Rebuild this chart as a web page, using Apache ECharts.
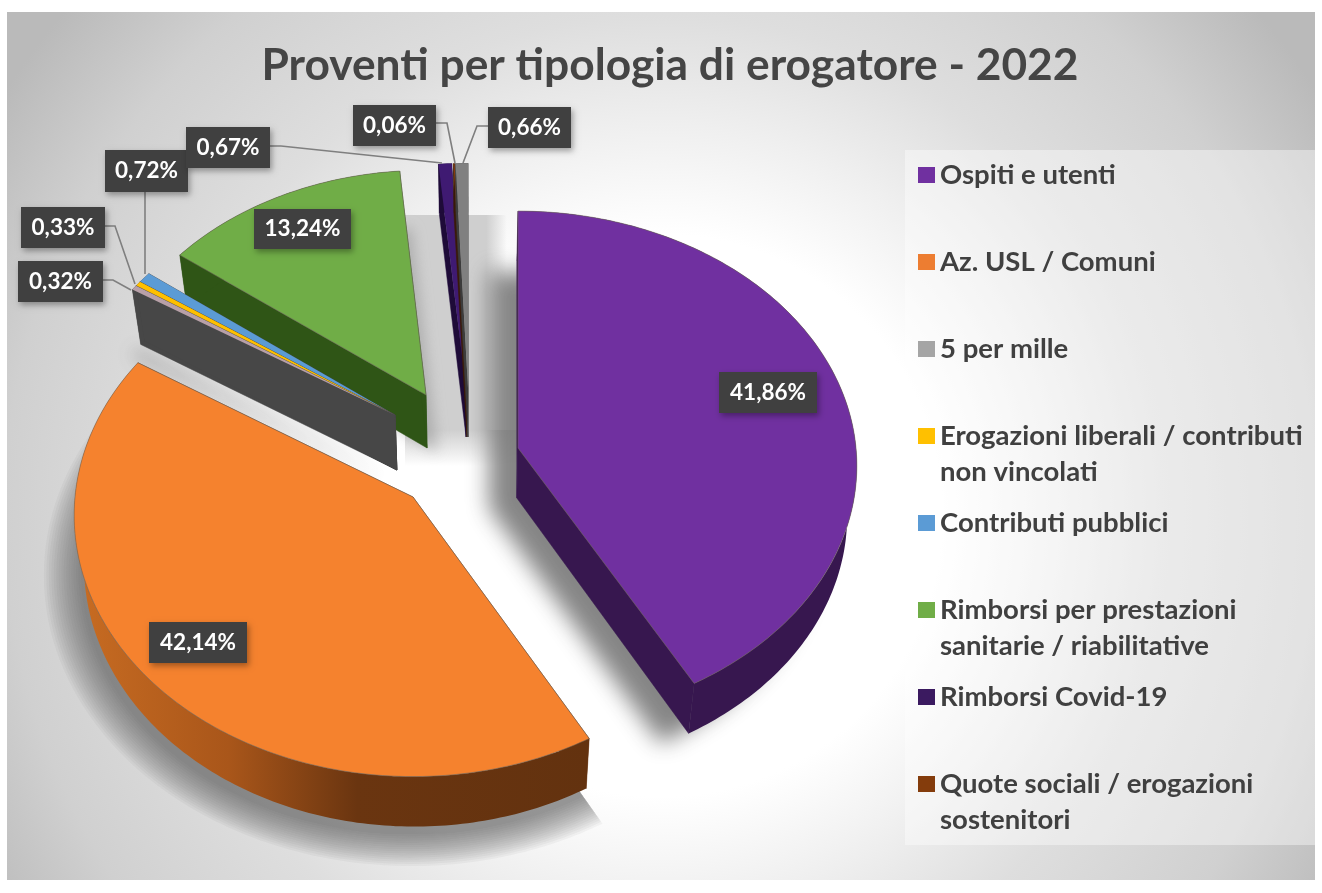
<!DOCTYPE html>
<html><head><meta charset="utf-8">
<style>html,body{margin:0;padding:0;background:#fff}#c{width:1322px;height:893px}</style>
<script src="https://cdn.jsdelivr.net/npm/echarts@6/dist/echarts.min.js"></script>
</head><body><div id="c"></div>
<script>
const titleText = 'Proventi per tipologia di erogatore - 2022';
const sliceNames = ['Ospiti e utenti','Az. USL / Comuni','5 per mille','Erogazioni liberali / contributi non vincolati','Contributi pubblici','Rimborsi per prestazioni sanitarie / riabilitative','Rimborsi Covid-19','Quote sociali / erogazioni sostenitori','Altri proventi'];
const sliceValues = [41.86,42.14,0.32,0.33,0.72,13.24,0.67,0.06,0.66];
const legendNames = sliceNames.slice(0,8);
const legendLines = {
  'Erogazioni liberali / contributi non vincolati':['Erogazioni liberali / contributi','non vincolati'],
  'Rimborsi per prestazioni sanitarie / riabilitative':['Rimborsi per prestazioni','sanitarie / riabilitative'],
  'Quote sociali / erogazioni sostenitori':['Quote sociali / erogazioni','sostenitori']
};
const topColors  = ['#7030A0','#F5822E','#B8A0A8','#FFC000','#5B9BD5','#70AD47','#3F1A72','#843C0C','#808080'];
const legendColors = ['#7030A0','#ED7D31','#A5A5A5','#FFC000','#5B9BD5','#70AD47','#3B1A60','#843C0C'];
const sideColors = ['#37174F',null,'#474747','#474747','#474747','#2F5516','#1E0B38','#3a1a08','#3c3c3c'];

// Exploded-pie layout: where each slice's apex sits and how perspective scales it
const R = 338, r = 260, persp = 0.07, vanishX = 470, shrink = 0.975;
const explode = [
 {cx:518,cy:448,sx:1,sy:0.975,d:50},{cx:413,cy:497,sx:1,sy:1,d:50},
 {cx:395,cy:415,sx:0.955,sy:0.935,d:55},{cx:395,cy:415,sx:0.955,sy:0.935,d:55},{cx:395,cy:415,sx:0.955,sy:0.935,d:55},
 {cx:426,cy:395,sx:0.955,sy:0.925,d:53},{cx:466,cy:388,sx:1.0,sy:0.925,d:49},{cx:467,cy:388,sx:0.95,sy:0.925,d:49},{cx:468,cy:388,sx:0.95,sy:0.925,d:49}];
const drawZ = [9,8,6.4,6.2,6,5,3,3.2,3.4];
// shadow: [sliceIndex, offsetX, offsetY, colour, blur]
const shadows = [[0,-28,10,'rgba(120,120,120,0.9)',22],[2,-8,10,'rgba(70,70,70,0.7)',18],[5,10,4,'rgba(150,150,150,0.6)',14]];
// soft orange shadow: stacked translucent copies fanned out from the apex
const fanShadow = {slice:1,dx:-3,dy:8,layers:16,step:0.0075,color:'rgba(85,85,85,0.05)'};
const labelBoxes = [
 {x:719,y:372,w:98,h:41},{x:149,y:622,w:98,h:41},
 {x:18,y:261,w:85,h:41,line:[[103,280],[113,280],[131,290]]},
 {x:21,y:207,w:84,h:41,line:[[105,226],[115,226],[135,284]]},
 {x:105,y:150,w:83,h:42,line:[[145,192],[145,274]]},
 {x:254,y:209,w:97,h:40},
 {x:186,y:127,w:84,h:41,line:[[270,146],[281,146],[442,163]]},
 {x:353,y:105,w:83,h:41,line:[[436,123],[447,123],[455,163]]},
 {x:488,y:107,w:83,h:41,line:[[488,126],[477,126],[463,163]]}];
const offscreen = 2000;

const fmt = v => v.toFixed(2).replace('.',',') + '%';
const starts = []; sliceValues.reduce((a,v,i)=>{starts[i]=a;return a+v;},0);
const total = sliceValues.reduce((a,b)=>a+b,0);
function pt(p, L){
  const t = p/total*2*Math.PI, X = Math.sin(t), Y = -Math.cos(t), w = 1 - persp*Y;
  return [L.cx + R*L.sx*X/w, L.cy + r*L.sy*Y/w];
}
const low = (q,L) => [vanishX + (q[0]-vanishX)*shrink, q[1]+L.d];
function rim(a,b,L){
  const n = Math.max(2, Math.ceil((b-a)*4)), out=[];
  for(let i=0;i<=n;i++) out.push(pt(a+(b-a)*i/n,L));
  return out;
}
const orangeWall = new echarts.graphic.LinearGradient(0,0,1,0,[
  {offset:0,color:'#C86C22'},{offset:0.3,color:'#A9561A'},{offset:0.55,color:'#6A3510'},{offset:1,color:'#63320F'}]);

function sliceItem(i){
  return function(params, api){
    const a = api.value(0), v = api.value(1), L = explode[i];
    const top = rim(a,a+v,L), apex=[L.cx,L.cy];
    const wall = i===1 ? orangeWall : sideColors[i];
    const kids = [];
    const quad = (p,q,fill)=>kids.push({type:'polygon',shape:{points:[p,q,low(q,L),low(p,L)]},style:{fill:fill,stroke:fill,lineWidth:0.5}});
    const rimWall = top.concat(top.slice().reverse().map(q=>low(q,L)));
    quad(apex,top[0],i===1?'#6A3510':sideColors[i]);
    quad(apex,top[top.length-1],i===1?'#6A3510':sideColors[i]);
    kids.push({type:'polygon',shape:{points:rimWall},style:{fill:wall}});
    kids.push({type:'polygon',shape:{points:[apex].concat(top)},style:{fill:topColors[i],stroke:'rgba(110,100,90,0.55)',lineWidth:v<1?0:1}});
    return {type:'group',children:kids};
  };
}
function shadowItem(params, api){
  const s = shadows[api.value(0)], i = s[0];
  const L = explode[i], a=starts[i], v=sliceValues[i], top=rim(a,a+v,L), apex=[L.cx,L.cy];
  const pts=[low(apex,L)].concat(top.map(q=>low(q,L))).map(q=>[q[0]+s[1]-offscreen,q[1]+s[2]]);
  return {type:'polygon',shape:{points:pts},style:{fill:'#000',shadowBlur:s[4],shadowColor:s[3],shadowOffsetX:offscreen,shadowOffsetY:0}};
}
function fanItem(params, api){
  const f = fanShadow, k = api.value(0), L = explode[f.slice], a=starts[f.slice], v=sliceValues[f.slice];
  const c = low([L.cx,L.cy],L), sc = 1 + k*f.step;
  const pts=[c].concat(rim(a,a+v,L).map(q=>{const b=low(q,L);return [c[0]+(b[0]-c[0])*sc,c[1]+(b[1]-c[1])*sc];})).map(q=>[q[0]+f.dx,q[1]+f.dy]);
  return {type:'polygon',shape:{points:pts},style:{fill:f.color}};
}
function labelItem(params, api){
  const i = api.value(1), b = labelBoxes[i], kids=[];
  if(b.line) kids.push({type:'polyline',shape:{points:b.line},style:{fill:'none',stroke:'#7f7f7f',lineWidth:1.6}});
  kids.push({type:'rect',shape:{x:b.x,y:b.y,width:b.w,height:b.h},style:{fill:'#404040',shadowBlur:6,shadowColor:'rgba(0,0,0,0.35)',shadowOffsetX:2,shadowOffsetY:3}});
  kids.push({type:'text',style:{text:fmt(api.value(0)),x:b.x+b.w/2,y:b.y+b.h/2,align:'center',verticalAlign:'middle',fill:'#fff',font:'bold 22.5px Lato'}});
  return {type:'group',children:kids};
}

const series = [
  {type:'custom',name:'Ombra',coordinateSystem:'none',z:1,silent:true,renderItem:fanItem,
   data:Array.from({length:fanShadow.layers},(_,k)=>[k])},
  {type:'custom',name:'Ombre',coordinateSystem:'none',z:1.5,silent:true,renderItem:shadowItem,
   data:shadows.map((s,k)=>[k])}
].concat(sliceValues.map((v,i)=>({
  type:'custom',name:sliceNames[i],coordinateSystem:'none',z:2+drawZ[i],silent:true,
  itemStyle:{color:i<8?legendColors[i]:topColors[i]},
  renderItem:sliceItem(i),data:[[starts[i],v]]
}))).concat([
  {type:'custom',name:'Etichette',coordinateSystem:'none',z:30,silent:true,renderItem:labelItem,
   data:sliceValues.map((v,i)=>[v,i])}
]);

const chart = echarts.init(document.getElementById('c'),null,{renderer:'canvas'});
chart.setOption({
  animation:false,
  tooltip:{show:false},
  title:{text:titleText,left:665,top:39,textAlign:'center',textStyle:{fontFamily:'Lato',fontWeight:'bold',fontSize:44.3,color:'#454545'}},
  legend:{
    data:legendNames,orient:'vertical',left:913,top:116,icon:'rect',itemWidth:17,itemHeight:16,itemGap:-21,selectedMode:false,
    formatter:n=>{const l=legendLines[n]||[n,' '];return '\n'+l[0]+'\n'+l[1];},
    textStyle:{fontFamily:'Lato',fontWeight:'bold',fontSize:27.5,lineHeight:36,color:'#404040'}
  },
  graphic:{elements:[
    {type:'rect',z:-10,shape:{x:7,y:12,width:1308,height:868},style:{fill:new echarts.graphic.RadialGradient(0.5,0.58,0.9,[
      {offset:0,color:'#ffffff'},{offset:0.36,color:'#ffffff'},{offset:0.5,color:'#efefef'},{offset:0.64,color:'#dedede'},{offset:0.84,color:'#d0d0d0'},{offset:1,color:'#bababa'}])}},
    {type:'rect',z:-9,shape:{x:905,y:150,width:410,height:695},style:{fill:'rgba(255,255,255,0.4)'}},
    {type:'rect',z:-8,shape:{x:405,y:215,width:113,height:215},style:{fill:new echarts.graphic.LinearGradient(0,0,1,0,[
      {offset:0,color:'#cfcfcf'},{offset:0.72,color:'#cfcfcf'},{offset:0.9,color:'rgba(207,207,207,0)'},{offset:1,color:'rgba(207,207,207,0)'}])}},
    {type:'rect',z:-8,shape:{x:405,y:430,width:113,height:36},style:{fill:new echarts.graphic.LinearGradient(0,0,0,1,[
      {offset:0,color:'#cfcfcf'},{offset:1,color:'rgba(207,207,207,0)'}])}}
  ]},
  series:series
});
</script></body></html>
